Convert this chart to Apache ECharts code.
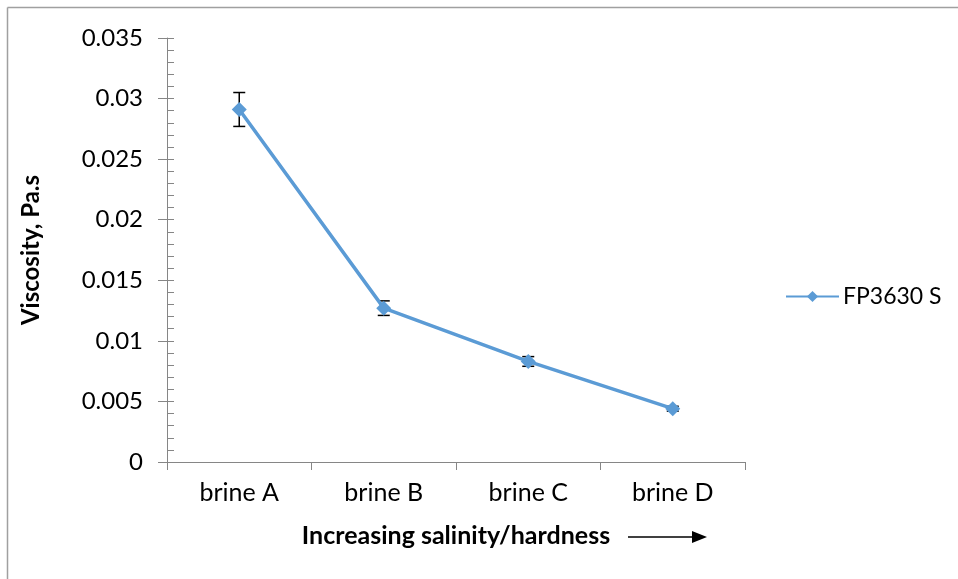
<!DOCTYPE html>
<html>
<head>
<meta charset="utf-8">
<script src="https://cdn.jsdelivr.net/npm/echarts@6/dist/echarts.min.js"></script>
<style>
  html, body { margin: 0; padding: 0; background: #fff; }
  #chart { width: 958px; height: 579px; }
</style>
</head>
<body>
<div id="chart"></div>
<script>
const categories = ["brine A", "brine B", "brine C", "brine D"];
const viscosity = [0.0291, 0.0127, 0.0083, 0.0044];
const errorSize = [0.0014, 0.0006, 0.0004, 0.0002];
const seriesName = "FP3630 S";

const font = "Lato, 'Open Sans', sans-serif";
const axisGray = "#868686";
const lineBlue = "#5b9bd5";

const errorData = categories.map((c, i) => [i, viscosity[i] - errorSize[i], viscosity[i] + errorSize[i]]);

const chart = echarts.init(document.getElementById("chart"));
chart.setOption({
  animation: false,
  grid: { left: 167, right: 213, top: 38, bottom: 117 },
  textStyle: { fontFamily: font },
  legend: {
    left: 785, top: 285, padding: 0,
    itemWidth: 53, itemHeight: 14, itemGap: 4,
    textStyle: { fontSize: 23, color: "#000", fontFamily: font, padding: [0, 0, 0, -1] },
    data: [seriesName]
  },
  xAxis: {
    type: "category",
    data: categories,
    boundaryGap: true,
    axisLine: { lineStyle: { color: axisGray, width: 1 } },
    axisTick: { show: true, length: 8, lineStyle: { color: axisGray } },
    axisLabel: { fontSize: 25, color: "#000", margin: 18, fontFamily: font },
    name: "Increasing salinity/hardness",
    nameLocation: "middle",
    nameGap: 61,
    nameTextStyle: { fontSize: 25, fontWeight: "bold", color: "#000", fontFamily: font },
    splitLine: { show: false }
  },
  yAxis: [
    {
      type: "value",
      min: 0, max: 0.035, interval: 0.005,
      axisLine: { show: true, lineStyle: { color: axisGray } },
      axisTick: { show: true, length: 9, lineStyle: { color: axisGray } },
      axisLabel: { fontSize: 24, color: "#000", margin: 24, fontFamily: font,
        formatter: v => v === 0 ? "0" : String(+v.toFixed(3)) },
      splitLine: { show: false },
      name: "Viscosity, Pa.s",
      nameLocation: "middle",
      nameRotate: 90,
      nameGap: 124,
      nameTextStyle: { fontSize: 24, fontWeight: "bold", color: "#000", fontFamily: font }
    },
    {
      type: "value",
      position: "left",
      min: 0, max: 0.035, interval: 0.005,
      axisLine: { show: false },
      axisTick: { show: true, inside: true, length: 7, lineStyle: { color: axisGray } },
      minorTick: { show: true, splitNumber: 5, length: 7, lineStyle: { color: axisGray } },
      axisLabel: { show: false },
      splitLine: { show: false }
    }
  ],
  series: [
    {
      name: seriesName,
      type: "line",
      data: viscosity,
      symbol: "diamond",
      symbolSize: 15,
      itemStyle: { color: lineBlue },
      lineStyle: { color: lineBlue, width: 3.5 },
      z: 3
    },
    {
      type: "custom",
      data: errorData,
      z: 2,
      silent: true,
      renderItem: function (params, api) {
        const x = api.coord([api.value(0), api.value(1)])[0];
        const lo = api.coord([api.value(0), api.value(1)])[1];
        const hi = api.coord([api.value(0), api.value(2)])[1];
        const half = 6;
        const style = { stroke: "#000", lineWidth: 1.5 };
        return {
          type: "group",
          children: [
            { type: "line", shape: { x1: x, y1: lo, x2: x, y2: hi }, style },
            { type: "line", shape: { x1: x - half, y1: lo, x2: x + half, y2: lo }, style },
            { type: "line", shape: { x1: x - half, y1: hi, x2: x + half, y2: hi }, style }
          ]
        };
      }
    }
  ],
  graphic: [
    { type: "line", shape: { x1: 7.5, y1: 7.5, x2: 958, y2: 7.5 }, style: { stroke: "#a0a0a0", lineWidth: 1.5 } },
    { type: "line", shape: { x1: 7.5, y1: 7.5, x2: 7.5, y2: 579 }, style: { stroke: "#a0a0a0", lineWidth: 1.5 } },
    { type: "line", shape: { x1: 628, y1: 537, x2: 694, y2: 537 }, style: { stroke: "#000", lineWidth: 1.5 } },
    { type: "polygon", shape: { points: [[692, 531], [707, 537], [692, 543]] }, style: { fill: "#000" } }
  ]
});
</script>
</body>
</html>
